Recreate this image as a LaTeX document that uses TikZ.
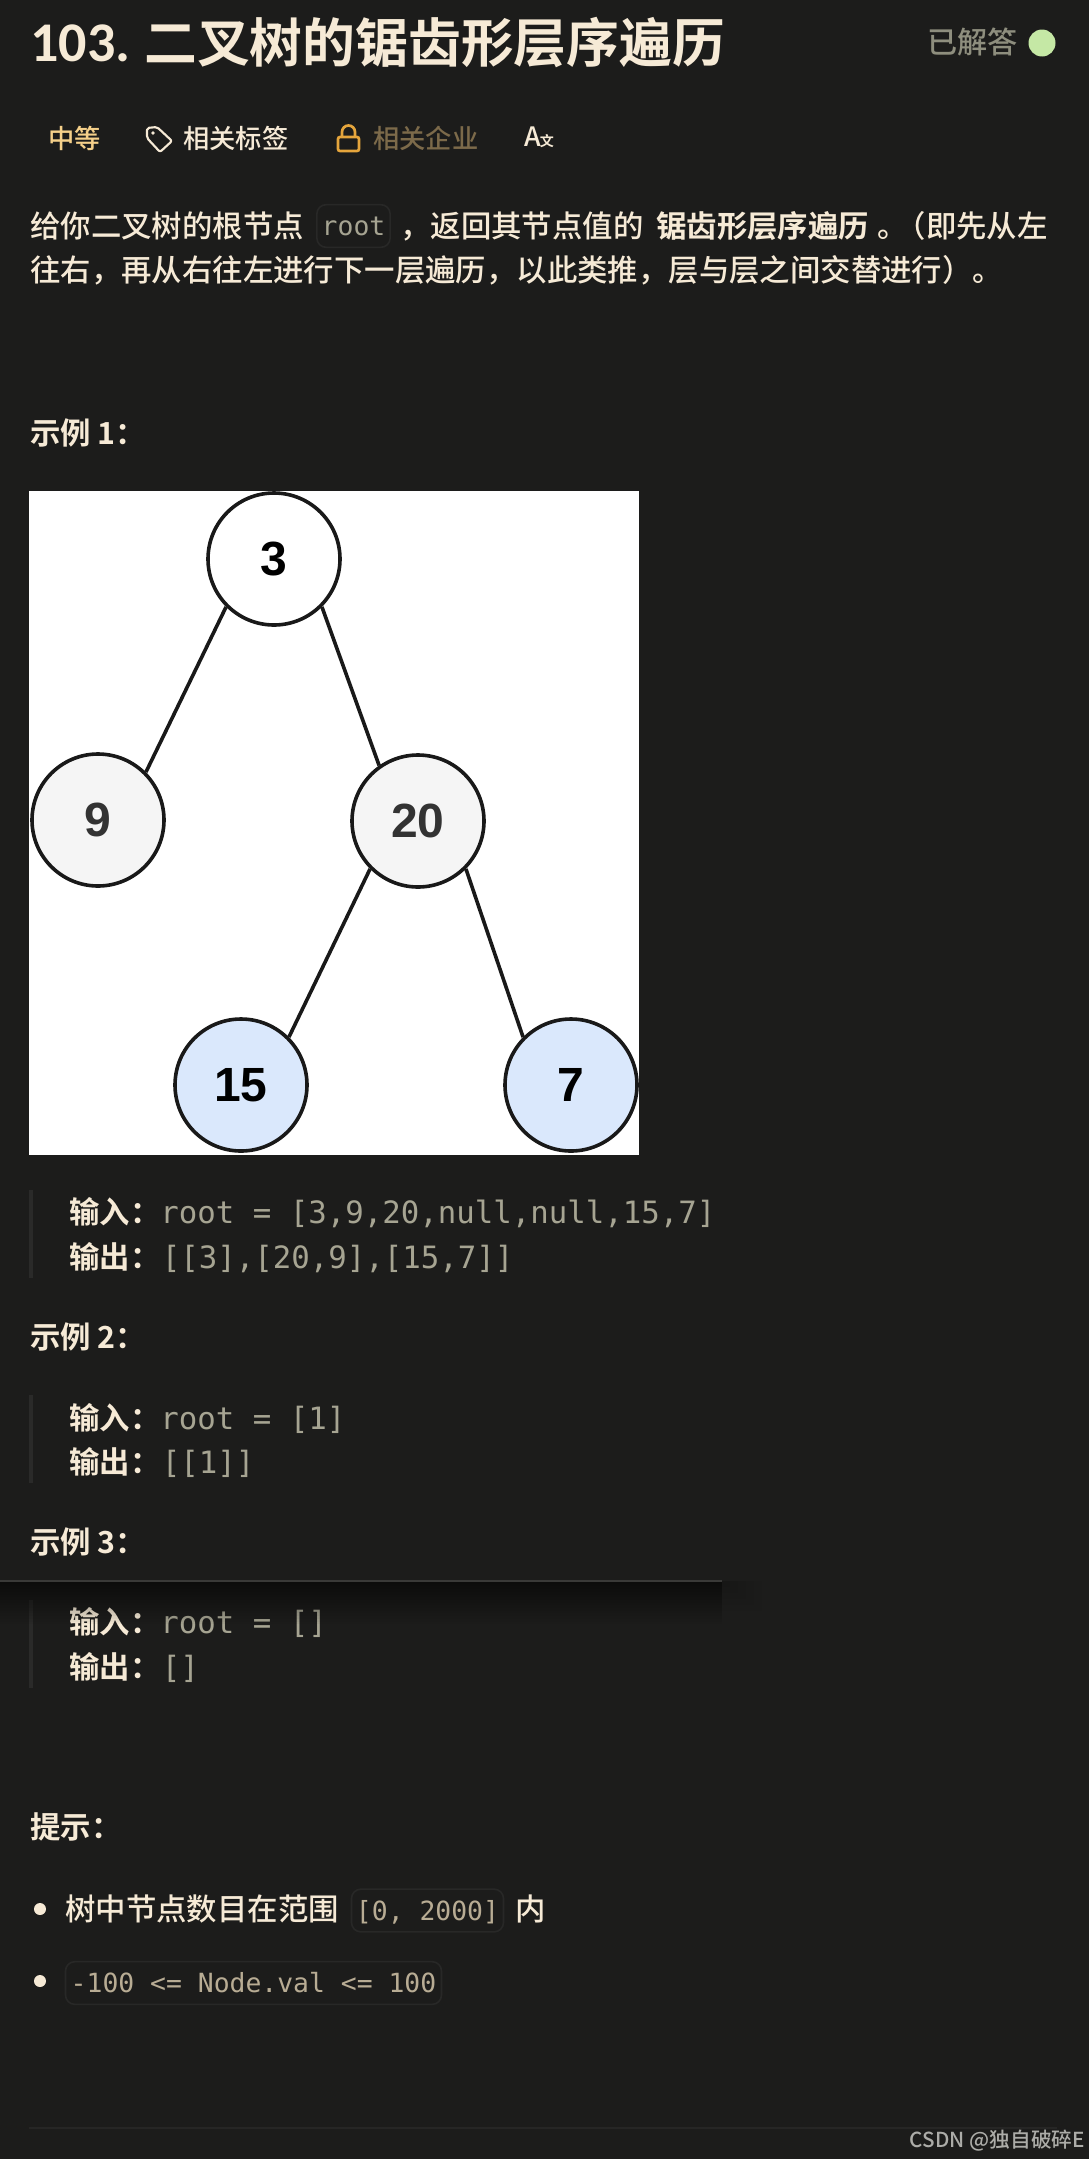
\documentclass[tikz,border=0pt]{standalone}
\usepackage{fontspec}
\setmainfont{Noto Sans CJK SC Medium}[BoldFont={Noto Sans CJK SC Bold}]
\setmonofont{DejaVu Sans Mono}
\setsansfont{Liberation Sans}
\newfontfamily\titlelatin{Carlito}
\definecolor{pagebg}{HTML}{1C1C1B}
\definecolor{cream}{HTML}{F6EAD6}
\definecolor{codegray}{HTML}{A6A492}
\definecolor{codetan}{HTML}{B8AC94}
\definecolor{boxline}{HTML}{282827}
\definecolor{barline}{HTML}{2A2A29}
\definecolor{graytext}{HTML}{8E8E7E}
\definecolor{leafblue}{HTML}{DAE8FC}
\definecolor{midgray}{HTML}{F5F5F5}
\definecolor{lockgold}{HTML}{E5A53C}
\definecolor{levelgold}{HTML}{F5D08A}
\definecolor{firmbrown}{HTML}{7C6A4A}
\definecolor{nodetext}{HTML}{333333}
\definecolor{marktext}{HTML}{ACACA8}

\begin{document}
\begin{tikzpicture}[x=0.75pt,y=0.75pt,yscale=-1,xscale=1,
  body/.style={anchor=west,inner sep=0,text=cream,text height=20.5pt,text depth=3.5pt,font=\fontsize{22.8}{27}\selectfont},
  head/.style={body,font=\fontsize{22.8}{27}\selectfont\bfseries},
  small/.style={anchor=west,inner sep=0,text height=17.5pt,text depth=3pt,font=\fontsize{19.7}{24}\selectfont},
  code/.style={anchor=west,inner sep=0,text=codegray,text height=20.5pt,text depth=3.5pt,font=\fontsize{23.05}{27}\selectfont\ttfamily},
  chip/.style={inner sep=0,rounded corners=7pt,draw=boxline,line width=1.2pt,text=codetan,text height=17.5pt,text depth=3pt,font=\fontsize{19.8}{24}\selectfont\ttfamily},
  bar/.style={draw=barline,line width=3pt},
  tree/.style={circle,draw=black!90,line width=2.7pt,minimum size=99pt,inner sep=0,font=\fontsize{36}{40}\selectfont\sffamily\bfseries},
  edge/.style={draw=black!90,line width=2.7pt}]
\useasboundingbox [fill=pagebg] (0,0) rectangle (1089,2159);

% Title row
\node [anchor=west,inner sep=0,text=cream,font=\fontsize{42}{46}\selectfont\titlelatin\bfseries] (titlenum) at (30,43) {103.};
\node [anchor=west,inner sep=0,text=cream,font=\fontsize{39.6}{44}\selectfont\bfseries] (title) at (144,43) {二叉树的锯齿形层序遍历};
\node [anchor=west,inner sep=0,text=graytext,font=\fontsize{22.6}{27}\selectfont] (solved) at (927,42) {已解答};
\fill [color={rgb, 255:red, 197; green, 232; blue, 165 }] (1042,43) circle [radius=13.5];
\fill [pagebg] (1055,30) circle [radius=4];

% Tag row
\node [small,text=levelgold] (level) at (48,139) {中等};
\draw [cream,line width=1.6pt,line join=round,rounded corners=1.5pt] (147,128) -- (157,127) -- (172,141) -- (160,152) -- (147,138) -- cycle;
\fill [cream] (153,133) circle [radius=1.8];
\node [small,text=cream] (tags) at (183,139) {相关标签};
\draw [lockgold,line width=2pt,rounded corners=1.5pt] (338,137) rectangle (359,151);
\draw [lockgold,line width=2pt] (342,137) -- (342,132) arc [start angle=180,end angle=360,radius=6.5] -- (355,137);
\node [small,text=firmbrown] (firms) at (373,139) {相关企业};
\node [anchor=west,inner sep=0,text=cream,font=\fontsize{20}{24}\selectfont] (langa) at (524,137) {A};
\node [anchor=west,inner sep=0,text=cream,font=\fontsize{10.5}{12}\selectfont\bfseries] (langb) at (539.5,141) {文};

% Text Node
\node [body] (intro) at (30,226) {给你二叉树的根节点};
\node [chip,minimum width=55pt,minimum height=32pt,text=codegray] (rootcode) at (353.5,226) {root};
\node [body] (introb) at (400,226) {，返回其节点值的};
\node [head] (introc) at (656,226) {锯齿形层序遍历};
\node [body] (introd) at (877,226) {。};
\node [body,anchor=east] (introe) at (1048,226) {（即先从左};
\node [body] (introf) at (30,270) {往右，再从右往左进行下一层遍历，以此类推，层与层之间交替进行）。};

\node [head] (caseone) at (30,433) {示例 1：};

% Tree
\fill [white] (29,491) rectangle (639,1155);
\node [tree,fill=white] (three) at (274,559) {3};
\node [tree,fill=midgray,text=nodetext] (nine) at (98,820) {9};
\node [tree,fill=midgray,text=nodetext] (twenty) at (418,821) {20};
\node [tree,fill=leafblue] (fifteen) at (241,1085) {15};
\node [tree,fill=leafblue] (seven) at (571,1085) {7};
\draw [edge] (three.225) -- (nine.45);
\draw [edge] (three.-45) -- (twenty.125);
\draw [edge] (twenty.225) -- (fifteen.45);
\draw [edge] (twenty.-45) -- (seven.135);

% Example 1
\draw [bar] (31,1190) -- (31,1277.5);
\node [head] (inone) at (69,1212.5) {输入：};
\node [code] (inonev) at (160,1212.5) {root = [3,9,20,null,null,15,7]};
\node [head] (outone) at (69,1257) {输出：};
\node [code] (outonev) at (161.5,1257) {[[3],[20,9],[15,7]]};

% Example 2
\node [head] (casetwo) at (30,1337.5) {示例 2：};
\draw [bar] (31,1395) -- (31,1482.5);
\node [head] (intwo) at (69,1418) {输入：};
\node [code] (intwov) at (160,1418) {root = [1]};
\node [head] (outtwo) at (69,1462.5) {输出：};
\node [code] (outtwov) at (161.5,1462.5) {[[1]]};

% Example 3
\node [head] (casethree) at (30,1542) {示例 3：};
\draw [bar] (31,1600) -- (31,1687.5);
\node [head] (inthree) at (69,1622.5) {输入：};
\node [code] (inthreev) at (160,1622.5) {root = []};
\node [head] (outthree) at (69,1667) {输出：};
\node [code] (outthreev) at (161.5,1667) {[]};

% Panel edge with shadow
\foreach \i in {1,...,16}
  \fill [black,opacity=.035] (0,1581) rectangle (722,1581+2.7*\i);
\foreach \i in {1,...,5}
  \fill [black,opacity=.012] (722,1581) rectangle (722+8*\i,1581+6*\i);
\draw [color={rgb, 255:red, 58; green, 58; blue, 56 },line width=1.2pt] (0,1581) -- (722,1581);

% Hints
\node [head] (hints) at (30,1827) {提示：};
\fill [cream] (40,1909) circle [radius=6];
\node [body] (hintone) at (65,1909) {树中节点数目在范围};
\node [chip,minimum width=114pt,minimum height=32pt] (hintcode) at (427.5,1910.5) {[0, 2000]};
\node [body] (hintoneb) at (515,1909) {内};
\fill [cream] (40,1981) circle [radius=6];
\node [chip,minimum width=282pt,minimum height=32pt] (hintval) at (253.5,1983) {-100 <= Node.val <= 100};

% Footer
\draw [color={rgb, 255:red, 38; green, 38; blue, 37 },line width=1pt] (29,2128) -- (1057,2128);
\node [anchor=east,inner sep=0,text=marktext,font=\fontsize{15.5}{18}\selectfont] (mark) at (1085,2141) {CSDN @独自破碎E};

\end{tikzpicture}
\end{document}
